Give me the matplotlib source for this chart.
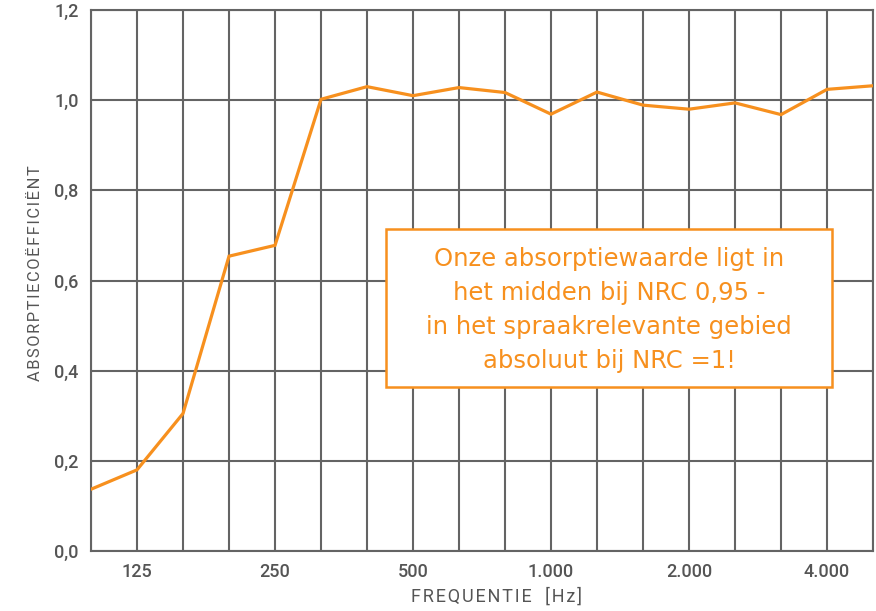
import matplotlib
matplotlib.use("Agg")
import matplotlib.pyplot as plt
from matplotlib.patches import Rectangle

# 1/3 octave bands and measured absorption coefficient
freqs = [100, 125, 160, 200, 250, 315, 400, 500, 630, 800,
         1000, 1250, 1600, 2000, 2500, 3150, 4000, 5000]
alpha = [0.137, 0.180, 0.305, 0.654, 0.678, 1.002, 1.030, 1.010, 1.028, 1.017,
         0.969, 1.018, 0.989, 0.980, 0.994, 0.968, 1.024, 1.032]
tick_freqs = [125, 250, 500, 1000, 2000, 4000]
tick_labels = ["125", "250", "500", "1.000", "2.000", "4.000"]
y_ticks = [0.0, 0.2, 0.4, 0.6, 0.8, 1.0, 1.2]
y_labels = ["0,0", "0,2", "0,4", "0,6", "0,8", "1,0", "1,2"]
note = ("Onze absorptiewaarde ligt in\n"
        "het midden bij NRC 0,95 -\n"
        "in het spraakrelevante gebied\n"
        "absoluut bij NRC =1!")

orange = "#f7901e"
grid = "#646464"
txt = "#555555"

plt.rcParams['font.family'] = ['Roboto', 'DejaVu Sans']


def spaced(s):
    # DIN-style tracking with hair spaces
    return "\u200a".join(s)


fig = plt.figure(figsize=(8.76, 6.11), dpi=100)
ax = fig.add_axes([0.1039, 0.0982, 0.8927, 0.8854])

x = list(range(len(freqs)))
ax.plot(x, alpha, color=orange, lw=2.3, solid_joinstyle='miter', zorder=3)

ax.set_xlim(0, len(freqs) - 1)
ax.set_ylim(0, 1.2)
ax.set_xticks(x, minor=True)
ax.set_xticks([freqs.index(f) for f in tick_freqs])
ax.set_xticklabels(tick_labels)
ax.set_yticks(y_ticks)
ax.set_yticklabels(y_labels)
ax.tick_params(which='both', length=0, colors=txt, labelsize=13)
ax.tick_params(axis='x', pad=9)
ax.tick_params(axis='y', pad=9)
for lab in ax.get_xticklabels() + ax.get_yticklabels():
    lab.set_fontweight('medium')

ax.grid(True, which='both', color=grid, lw=1.5)
ax.set_axisbelow(True)
for s in ax.spines.values():
    s.set_color(grid)
    s.set_linewidth(1.5)

ax.set_xlabel(spaced("FREQUENTIE") + "   " + spaced("[Hz]"),
              color=txt, fontsize=13, labelpad=6)
ax.xaxis.set_label_coords(0.518, -0.068)
ax.set_ylabel(spaced("ABSORPTIECOËFFICIËNT"), color=txt, fontsize=11.8)
ax.yaxis.set_label_coords(-0.062, 0.514)

ax.add_patch(Rectangle((0.377, 0.304), 0.571, 0.291, transform=ax.transAxes,
                       facecolor='white', edgecolor=orange, lw=1.8, zorder=4))
ax.text(0.6625, 0.446, note, transform=ax.transAxes, ha='center', va='center',
        color=orange, fontsize=17.5, linespacing=1.52, zorder=5,
        family=['DejaVu Sans'])

fig.savefig("out.png", dpi=100)
